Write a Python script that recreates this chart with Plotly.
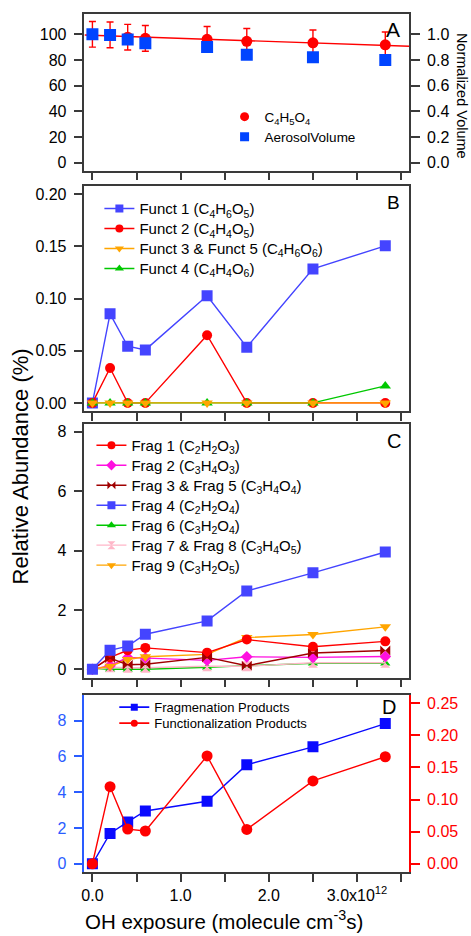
import numpy as np
import plotly.graph_objects as go

# ---------------- data ----------------
oh_exposure = [0.0, 0.2e12, 0.4e12, 0.6e12, 1.3e12, 1.75e12, 2.5e12, 3.32e12]

# Panel A
c4h5o4 = [100, 99.5, 97.7, 96.8, 96.1, 94.5, 93.3, 91.8]
c4h5o4_err = [10, 10, 10, 10, 10, 10, 10, 10]
aerosol_volume = [1.0, 0.995, 0.96, 0.93, 0.90, 0.84, 0.82, 0.80]

# Panel B (functionalization products)
funct1 = [0.0, 0.0853, 0.0543, 0.0508, 0.1026, 0.0534, 0.1284, 0.1505]
funct2 = [0.0, 0.0335, 0.0, 0.0, 0.0649, 0.0, 0.0, 0.0]
funct3_5 = [0.0, 0.0, 0.0, 0.0, 0.0, 0.0, 0.0, 0.0]
funct4 = [0.0, 0.0, 0.0, 0.0, 0.0, 0.0, 0.0, 0.0163]

# Panel C (fragmentation products)
frag1 = [0.0, 0.40, 0.64, 0.72, 0.56, 1.00, 0.76, 0.94]
frag2 = [0.0, 0.12, 0.40, 0.38, 0.30, 0.42, 0.40, 0.43]
frag3_5 = [0.0, 0.38, 0.15, 0.17, 0.40, 0.12, 0.55, 0.63]
frag4 = [0.0, 0.64, 0.78, 1.18, 1.63, 2.64, 3.25, 3.95]
frag6 = [0.03, 0.0, 0.0, 0.0, 0.07, 0.12, 0.20, 0.20]
frag7_8 = [0.0, 0.07, 0.05, 0.05, 0.10, 0.10, 0.22, 0.22]
frag9 = [0.0, 0.10, 0.33, 0.42, 0.50, 1.07, 1.17, 1.43]

# Panel D (totals)
fragmentation_total = [0.0, 1.69, 2.34, 2.95, 3.49, 5.53, 6.53, 7.83]
functionalization_total = [0.0, 0.120, 0.054, 0.051, 0.168, 0.0535, 0.129, 0.1667]

x_tickvals = [0.0, 1.0e12, 2.0e12, 3.0e12]
x_ticktext = ["0.0", "1.0", "2.0", "3.0x10<sup>12</sup>"]
x_minor_dtick = 0.5e12

# legend labels
legend_a = ["C<sub>4</sub>H<sub>5</sub>O<sub>4</sub>", "AerosolVolume"]
legend_b = ["Funct 1 (C<sub>4</sub>H<sub>6</sub>O<sub>5</sub>)",
            "Funct 2 (C<sub>4</sub>H<sub>4</sub>O<sub>5</sub>)",
            "Funct 3 &amp; Funct 5 (C<sub>4</sub>H<sub>6</sub>O<sub>6</sub>)",
            "Funct 4 (C<sub>4</sub>H<sub>4</sub>O<sub>6</sub>)"]
legend_c = ["Frag 1 (C<sub>2</sub>H<sub>2</sub>O<sub>3</sub>)",
            "Frag 2 (C<sub>3</sub>H<sub>4</sub>O<sub>3</sub>)",
            "Frag 3 &amp; Frag 5 (C<sub>3</sub>H<sub>4</sub>O<sub>4</sub>)",
            "Frag 4 (C<sub>2</sub>H<sub>2</sub>O<sub>4</sub>)",
            "Frag 6 (C<sub>3</sub>H<sub>2</sub>O<sub>4</sub>)",
            "Frag 7 &amp; Frag 8 (C<sub>3</sub>H<sub>4</sub>O<sub>5</sub>)",
            "Frag 9 (C<sub>3</sub>H<sub>2</sub>O<sub>5</sub>)"]
legend_d = ["Fragmenation Products", "Functionalization Products"]

# ---------------- styling ----------------
W, H = 471, 936
FONT = "Liberation Sans, Arial, sans-serif"
AX = "#3a3a3a"
BLUE_A = "#0044ff"
BLUE_BC = "#4444ff"
BLUE_D = "#0a0aff"
BLUE_AX = "#2a5cff"
RED = "#ff0000"
ORANGE = "#ffa500"
GREEN = "#00c800"
MAGENTA = "#ff10e0"
DARKRED = "#a00000"
PINK = "#ffb6c8"
LW = 1.5

xr = [-0.09e12, 3.59e12]
LX, RX = 82, 408.7


def ydom(top, bottom):
    return [1 - bottom / H, 1 - top / H]


xdom = [LX / W, RX / W]

fig = go.Figure()
legends = {}
_count = [0]


def sc(x, y, xa, ya, color, symbol, size, mode="lines+markers", **kw):
    return go.Scatter(x=x, y=y, xaxis=xa, yaxis=ya, mode=mode,
                      line=dict(color=color, width=1.4),
                      marker=dict(color=color, symbol=symbol, size=size, line=dict(width=0)),
                      showlegend=False, hoverinfo="skip", **kw)


def leg(color, symbol, size, name, x_text, y_center, fsize, mode="lines+markers", lw=1.4):
    _count[0] += 1
    key = "legend" if _count[0] == 1 else "legend%d" % _count[0]
    legends[key] = dict(x=(x_text - 40) / W, y=1 - y_center / H, xanchor="left", yanchor="middle",
                        bgcolor="rgba(0,0,0,0)", borderwidth=0,
                        font=dict(family=FONT, size=fsize, color="black"))
    fig.add_trace(go.Scatter(x=[None], y=[None], mode=mode, name=name, legend=key,
                             line=dict(color=color, width=lw),
                             marker=dict(color=color, symbol=symbol, size=size, line=dict(width=0)),
                             showlegend=True, xaxis="x", yaxis="y"))


# ---- Panel A ----
xs = np.array(oh_exposure) / 1e12
coef = np.polyfit(xs, np.array(c4h5o4), 1)
fit_x = np.array(xr)
fit_y = np.polyval(coef, fit_x / 1e12)
fig.add_trace(go.Scatter(x=fit_x, y=fit_y, xaxis="x", yaxis="y", mode="lines",
                         line=dict(color=RED, width=1.4), showlegend=False, hoverinfo="skip"))
fig.add_trace(sc(oh_exposure, c4h5o4, "x", "y", RED, "circle", 11, mode="markers",
                 error_y=dict(type="data", array=c4h5o4_err, color=RED, thickness=1.4, width=3.5)))
fig.add_trace(sc(oh_exposure, aerosol_volume, "x", "y2", BLUE_A, "square", 12, mode="markers"))
leg(RED, "circle", 9, legend_a[0], 263, 117, 13.5, mode="markers")
leg(BLUE_A, "square", 9, legend_a[1], 263, 137, 13.5, mode="markers")

# ---- Panel B ----
fig.add_trace(sc(oh_exposure, funct1, "x2", "y3", BLUE_BC, "square", 11))
fig.add_trace(sc(oh_exposure, funct2, "x2", "y3", RED, "circle", 10))
fig.add_trace(sc(oh_exposure, funct4, "x2", "y3", GREEN, "triangle-up", 10))
fig.add_trace(sc(oh_exposure, funct3_5, "x2", "y3", ORANGE, "triangle-down", 10))
for i, (c, s) in enumerate([(BLUE_BC, "square"), (RED, "circle"), (ORANGE, "triangle-down"),
                            (GREEN, "triangle-up")]):
    leg(c, s, 8, legend_b[i], 137, 209 + 20 * i, 15)

# ---- Panel C ----
fig.add_trace(sc(oh_exposure, frag6, "x3", "y4", GREEN, "triangle-up", 9))
fig.add_trace(sc(oh_exposure, frag7_8, "x3", "y4", PINK, "hourglass", 10))
fig.add_trace(sc(oh_exposure, frag2, "x3", "y4", MAGENTA, "diamond", 9))
fig.add_trace(sc(oh_exposure, frag9, "x3", "y4", ORANGE, "triangle-down", 10))
fig.add_trace(sc(oh_exposure, frag1, "x3", "y4", RED, "circle", 10))
fig.add_trace(sc(oh_exposure, frag3_5, "x3", "y4", DARKRED, "bowtie", 10))
fig.add_trace(sc(oh_exposure, frag4, "x3", "y4", BLUE_BC, "square", 11))
for i, (c, s) in enumerate([(RED, "circle"), (MAGENTA, "diamond"), (DARKRED, "bowtie"),
                            (BLUE_BC, "square"), (GREEN, "triangle-up"), (PINK, "hourglass"),
                            (ORANGE, "triangle-down")]):
    leg(c, s, 8, legend_c[i], 129, 446 + 20 * i, 15)

# ---- Panel D ----
fig.add_trace(sc(oh_exposure, fragmentation_total, "x4", "y5", BLUE_D, "square", 11))
fig.add_trace(sc(oh_exposure, functionalization_total, "x4", "y6", RED, "circle", 11))
leg(BLUE_D, "square", 7, legend_d[0], 152, 708, 13, lw=1.8)
leg(RED, "circle", 7, legend_d[1], 152, 724, 13, lw=1.8)

# ---------------- axes ----------------
tickfont = dict(family=FONT, size=16, color="black")


def xaxis(dom_anchor, labels=False):
    d = dict(domain=xdom, anchor=dom_anchor, range=xr, tickmode="array",
             tickvals=x_tickvals, showticklabels=labels, ticks="outside", ticklen=8,
             tickwidth=LW, tickcolor=AX,
             minor=dict(dtick=x_minor_dtick, tick0=0, ticks="outside", ticklen=8,
                        tickwidth=LW, tickcolor=AX, showgrid=False),
             showline=True, linecolor=AX, linewidth=LW, mirror=True, showgrid=False,
             zeroline=False, tickfont=tickfont)
    if labels:
        d["ticktext"] = x_ticktext
    return d


def yaxis(dom, anchor, rng, dtick, fmt, side="left", mirror=True, color=AX, fcolor="black", **kw):
    return dict(domain=dom, anchor=anchor, range=rng, tick0=0, dtick=dtick, tickformat=fmt,
                side=side, ticks="outside", ticklen=9, tickwidth=LW, tickcolor=color,
                showline=True, linecolor=color, linewidth=LW, mirror=mirror, showgrid=False,
                zeroline=False, tickfont=dict(family=FONT, size=16, color=fcolor),
                ticklabelstandoff=4, **kw)


domA = ydom(14, 170.7)
domB = ydom(186, 411.7)
domC = ydom(424.3, 678.3)
domD = ydom(696, 872.7)

fig.update_layout(
    width=W, height=H, margin=dict(l=0, r=0, t=0, b=0),
    paper_bgcolor="white", plot_bgcolor="white",
    font=dict(family=FONT, size=15, color="black"),
    xaxis=xaxis("y"),
    yaxis=yaxis(domA, "x", [-6.2, 115.8], 20, "d", mirror=False),
    yaxis2=yaxis(domA, "x", [-0.062, 1.158], 0.2, ".1f", side="right", mirror=False,
                 overlaying="y"),
    xaxis2=xaxis("y3"),
    yaxis3=yaxis(domB, "x2", [-0.008, 0.208], 0.05, ".2f"),
    xaxis3=xaxis("y4"),
    yaxis4=yaxis(domC, "x3", [-0.28, 8.27], 2, "d"),
    xaxis4=xaxis("y5", labels=True),
    yaxis5=yaxis(domD, "x4", [-0.446, 9.41], 2, "d", mirror=False, color=BLUE_AX, fcolor=BLUE_AX),
    yaxis6=yaxis(domD, "x4", [-0.0125, 0.2625], 0.05, ".2f", side="right", mirror=False,
                 color=RED, fcolor=RED, overlaying="y5"),
    **legends,
)

ann = [
    dict(text="A", x=393, y=30, size=21),
    dict(text="B", x=392.7, y=203, size=19),
    dict(text="C", x=394, y=441, size=20),
    dict(text="D", x=388, y=708, size=20),
]
for a in ann:
    fig.add_annotation(text=a["text"], x=a["x"] / W, y=1 - a["y"] / H, xref="paper", yref="paper",
                       showarrow=False, font=dict(family=FONT, size=a["size"], color="black"),
                       xanchor="center", yanchor="middle")

fig.add_annotation(text="Normalized Volume", x=1, y=1 - 96 / H, xref="paper", yref="paper",
                   showarrow=False, textangle=90, font=dict(family=FONT, size=14.5),
                   xanchor="right", yanchor="middle", borderpad=0)
fig.add_annotation(text="Relative Abundance (%)", x=18 / W, y=1 - 467 / H, xref="paper", yref="paper",
                   showarrow=False, textangle=-90, font=dict(family=FONT, size=22),
                   xanchor="center", yanchor="middle")
fig.add_annotation(text="OH exposure (molecule cm<sup>-3</sup>s)", x=222 / W, y=0,
                   xref="paper", yref="paper", showarrow=False, font=dict(family=FONT, size=20.5),
                   xanchor="center", yanchor="bottom")

fig.write_html("out.html", config={"displayModeBar": False},
               post_script="document.body.style.margin='0px';document.body.style.padding='0px';")
